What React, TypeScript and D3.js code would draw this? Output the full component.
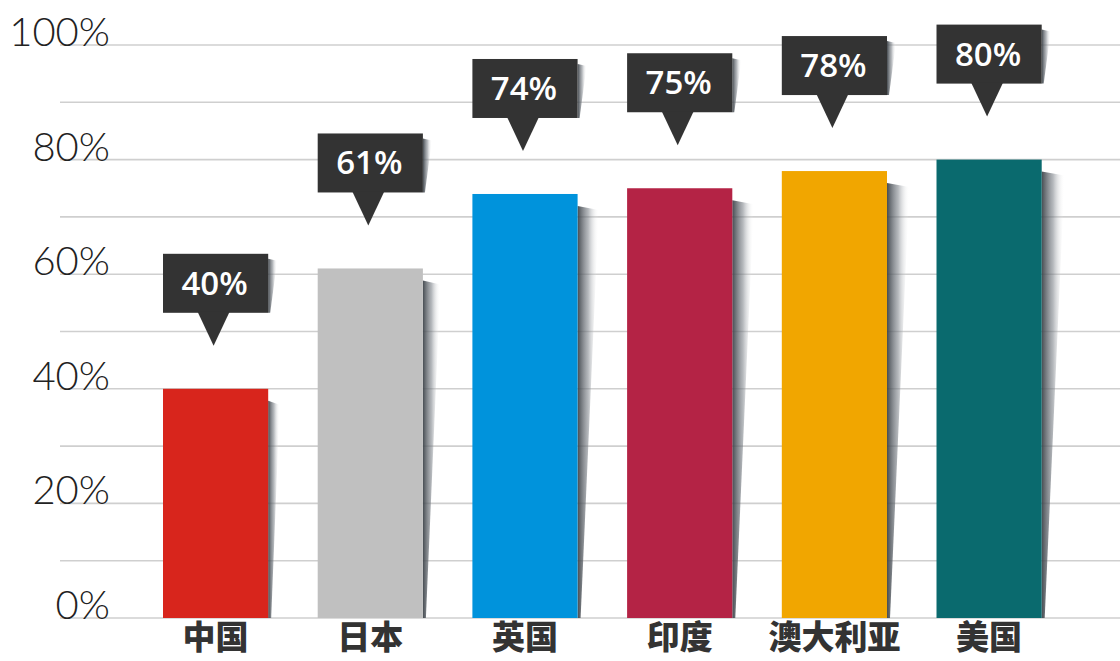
import React from 'react';
import * as d3 from 'd3';

const categories = ['中国', '日本', '英国', '印度', '澳大利亚', '美国'];
const values = [40, 61, 74, 75, 78, 80];
const barColors = ['#D8251C', '#C0C0C0', '#0093DC', '#B42345', '#F1A600', '#0A6A6E'];
const yTickLabels = [0, 20, 40, 60, 80, 100];
const gridValues = [0, 10, 20, 30, 40, 50, 60, 70, 80, 90, 100];

const W = 1120;
const H = 661;

export default function App() {
  const x = d3.scaleBand<string>().domain(categories).range([110.4, 1094.3]).paddingInner(0.32).paddingOuter(0.34);
  const y = d3.scaleLinear().domain([0, 100]).range([618, 45]);
  const bw = x.bandwidth();
  const base = y(0);

  return (
    <svg width={W} height={H} style={{ position: 'absolute', left: 0, top: 0, background: '#fff' }}>
      <defs>
        <linearGradient id="shadowH" x1="0" x2="1" y1="0" y2="0">
          <stop offset="0" stopColor="#3d4349" stopOpacity={0.95} />
          <stop offset="0.5" stopColor="#7a8087" stopOpacity={0.55} />
          <stop offset="1" stopColor="#ffffff" stopOpacity={0} />
        </linearGradient>
      </defs>
      <rect x={0} y={0} width={W} height={H} fill="#fff" />
      {gridValues.map((g) => (
        <line key={g} x1={60} x2={W} y1={y(g)} y2={y(g)} stroke="#cfcfcf" strokeWidth={1.6} />
      ))}
      {yTickLabels.map((t) => (
        <text
          key={t}
          x={110}
          y={y(t) + 1}
          textAnchor="end"
          fontFamily="Lato, 'DejaVu Sans', sans-serif"
          fontWeight={300}
          fontSize={40}
          fill="#222"
        >
          {t}%
        </text>
      ))}
      {categories.map((c, i) => {
        const v = values[i];
        const x0 = x(c)!;
        const top = y(v);
        const h = base - top;
        const sw = Math.max(8, Math.min(24, h * 0.05));
        const right = x0 + bw;
        const shadowPts = [
          [right, top + 12],
          [right + sw, top + 16],
          [right + 3, base],
          [right, base],
        ];
        const cx = x0 + bw / 2;
        const tipY = top - 43;
        const boxBottom = tipY - 33;
        const boxTop = boxBottom - 59;
        const tipX = cx - 2;
        return (
          <g key={c}>
            <polygon points={shadowPts.map((p) => p.join(',')).join(' ')} fill="url(#shadowH)" />
            <rect x={x0} y={top} width={bw} height={h} fill={barColors[i]} />
            <polygon
              points={[
                [right, boxTop + 5],
                [right + 9, boxTop + 7],
                [right + 2, boxBottom],
                [right, boxBottom],
              ]
                .map((p) => p.join(','))
                .join(' ')}
              fill="url(#shadowH)"
            />
            <rect x={x0} y={boxTop} width={bw} height={59} fill="#333333" />
            <polygon
              points={[
                [tipX - 16, boxBottom - 1],
                [tipX + 16, boxBottom - 1],
                [tipX, tipY],
              ]
                .map((p) => p.join(','))
                .join(' ')}
              fill="#333333"
            />
            <text
              x={cx - 1}
              y={boxTop + 41}
              textAnchor="middle"
              fontFamily="'Open Sans', Lato, sans-serif"
              fontWeight={600}
              fontSize={33}
              fill="#fff"
            >
              {v}%
            </text>
            <text
              x={cx}
              y={649}
              textAnchor="middle"
              fontFamily="'Noto Sans CJK SC', sans-serif"
              fontWeight={900}
              fontSize={33}
              fill="#333"
            >
              {c}
            </text>
          </g>
        );
      })}
    </svg>
  );
}
